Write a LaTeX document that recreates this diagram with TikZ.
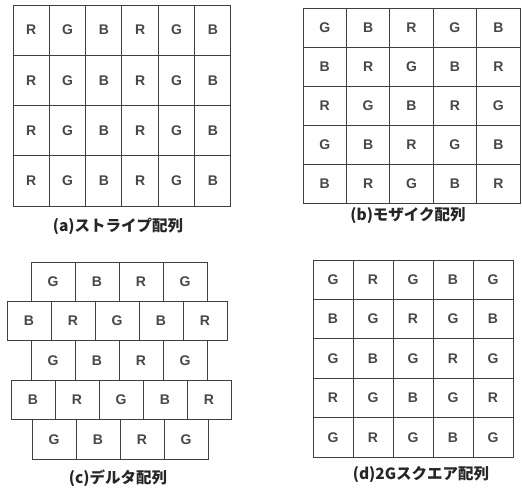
\documentclass[tikz,border=0pt]{standalone}
\usepackage{fontspec}
\setmainfont{Noto Sans CJK JP}
\newfontfamily\cellfont{Liberation Sans}
\begin{document}
\begin{tikzpicture}[x=1pt,y=-1pt,
    cell/.style={draw=black!75, line width=1pt, rectangle, inner sep=0pt, outer sep=0pt,
      text=black!72, font=\cellfont\fontsize{14}{14}\selectfont\bfseries},
    caption/.style={text=black!85, font=\fontsize{15.5}{16}\selectfont\bfseries}]
    \useasboundingbox (0,0) rectangle (522,490);
    % (a) stripe
    \foreach \row [count=\j] in {{R,G,B,R,G,B},{R,G,B,R,G,B},{R,G,B,R,G,B},{R,G,B,R,G,B}}
        \foreach \c [count=\i] in \row
            \node[cell, minimum width=36.33pt, minimum height=50.25pt] (a-\j-\i)
                at ({13+36.33*(\i-0.5)}, {5+50.25*(\j-0.5)}) {\c};
    \node[caption] (capa) at (118,226) {(a)ストライプ配列};
    % (b) mosaic
    \foreach \row [count=\j] in {{G,B,R,G,B},{B,R,G,B,R},{R,G,B,R,G},{G,B,R,G,B},{B,R,G,B,R}}
        \foreach \c [count=\i] in \row
            \node[cell, minimum width=43.4pt, minimum height=39pt] (b-\j-\i)
                at ({303+43.4*(\i-0.5)}, {8+39*(\j-0.5)}) {\c};
    \node[caption] (capb) at (408,216) {(b)モザイク配列};
    % (c) delta
    \foreach \row/\off [count=\j] in {{G,B,R,G}/31,{B,R,G,B,R}/7,{G,B,R,G}/31,{B,R,G,B,R}/11,{G,B,R,G}/32}
        \foreach \c [count=\i] in \row
            \node[cell, minimum width=44pt, minimum height=39.4pt] (c-\j-\i)
                at ({\off+44*(\i-0.5)}, {262+39.4*(\j-0.5)}) {\c};
    \node[caption] (capc) at (118,478) {(c)デルタ配列};
    % (d) 2G square
    \foreach \row [count=\j] in {{G,R,G,B,G},{B,G,R,G,B},{G,B,G,R,G},{R,G,B,G,R},{G,R,G,B,G}}
        \foreach \c [count=\i] in \row
            \node[cell, minimum width=40pt, minimum height=39.4pt] (d-\j-\i)
                at ({313+40*(\i-0.5)}, {260+39.4*(\j-0.5)}) {\c};
    \node[caption] (capd) at (421,475) {(d)2Gスクエア配列};
\end{tikzpicture}
\end{document}
